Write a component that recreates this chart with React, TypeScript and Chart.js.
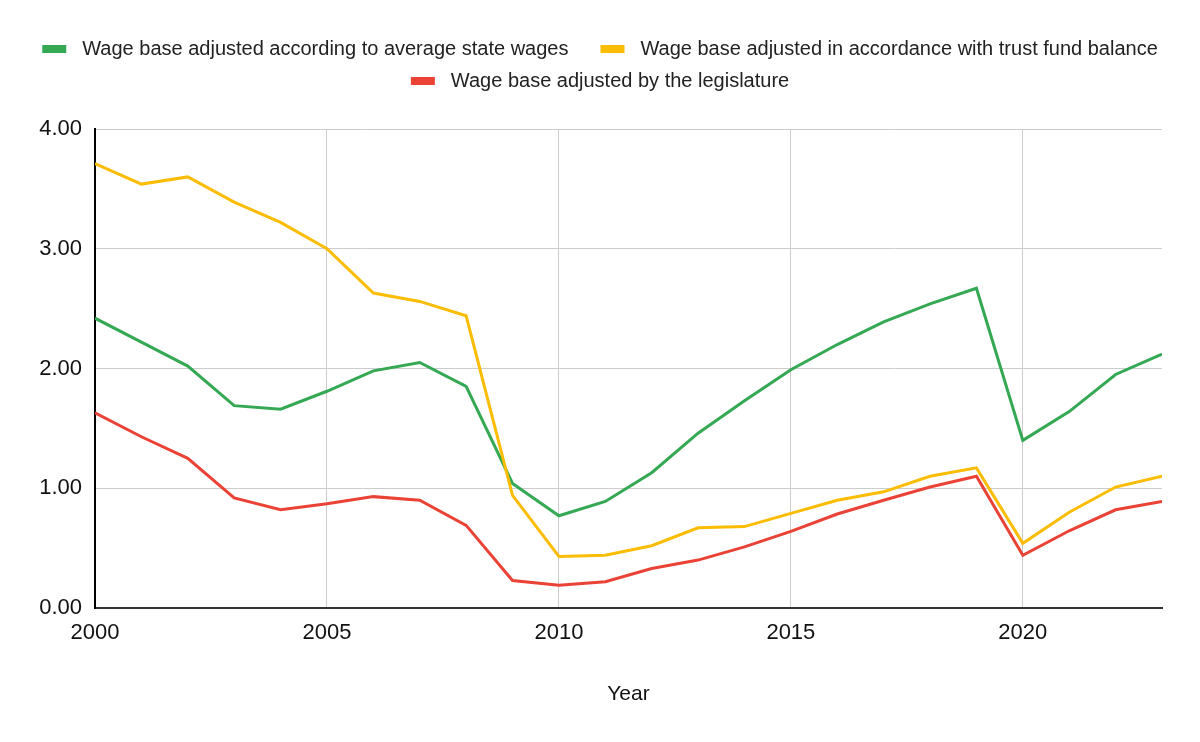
import React, { useEffect, useRef } from 'react';
import { Chart, registerables } from 'chart.js';

Chart.register(...registerables);

const years = [2000, 2001, 2002, 2003, 2004, 2005, 2006, 2007, 2008, 2009, 2010, 2011, 2012, 2013, 2014, 2015, 2016, 2017, 2018, 2019, 2020, 2021, 2022, 2023];

const seriesLabels = [
  'Wage base adjusted according to average state wages',
  'Wage base adjusted in accordance with trust fund balance',
  'Wage base adjusted by the legislature',
];

const stateWages = [2.42, 2.22, 2.02, 1.69, 1.66, 1.81, 1.98, 2.05, 1.85, 1.04, 0.77, 0.89, 1.13, 1.46, 1.73, 1.99, 2.2, 2.39, 2.54, 2.67, 1.4, 1.64, 1.95, 2.12];
const trustFund = [3.71, 3.54, 3.6, 3.39, 3.22, 3.0, 2.63, 2.56, 2.44, 0.94, 0.43, 0.44, 0.52, 0.67, 0.68, 0.79, 0.9, 0.97, 1.1, 1.17, 0.54, 0.8, 1.01, 1.1];
const legislature = [1.63, 1.43, 1.25, 0.92, 0.82, 0.87, 0.93, 0.9, 0.69, 0.23, 0.19, 0.22, 0.33, 0.4, 0.51, 0.64, 0.785, 0.9, 1.01, 1.1, 0.44, 0.645, 0.82, 0.89];

const yTicks = [0, 1, 2, 3, 4];
const xTickStep = 5;
const xTitle = 'Year';

const COLORS = ['#34a853', '#fbbc04', '#ea4335'];
const FONT = '"Liberation Sans", Arial, Helvetica, sans-serif';

function makeSwatch(color: string) {
  const c = document.createElement('canvas');
  c.width = 50;
  c.height = 8;
  const g = c.getContext('2d')!;
  g.fillStyle = color;
  g.fillRect(20, 0, 24, 8);
  return c;
}

const legendSpacer = {
  id: 'legendSpacer',
  afterInit(chart: any) {
    const legend = chart.legend;
    if (!legend) return;
    const orig = legend.fit.bind(legend);
    legend.fit = function () {
      orig();
      this.height += 28;
    };
  },
};

export default function App() {
  const ref = useRef<HTMLCanvasElement>(null);

  useEffect(() => {
    document.body.style.margin = '0';
    const series = [stateWages, trustFund, legislature];
    const orders = [3, 2, 1];
    const chart = new Chart(ref.current!, {
      type: 'line',
      data: {
        labels: years,
        datasets: series.map((d, i) => ({
          label: seriesLabels[i],
          data: d,
          borderColor: COLORS[i],
          backgroundColor: COLORS[i],
          borderWidth: 3,
          pointRadius: 0,
          pointHoverRadius: 0,
          pointStyle: makeSwatch(COLORS[i]) as any,
          tension: 0,
          order: orders[i],
        })),
      },
      options: {
        animation: false,
        responsive: false,
        devicePixelRatio: 1,
        layout: { padding: { top: 27, left: 0, right: 20, bottom: 0 } },
        plugins: {
          legend: {
            position: 'top',
            labels: {
              usePointStyle: true,
              pointStyleWidth: 50,
              boxHeight: 8,
              padding: 12,
              color: '#222',
              font: { family: FONT, size: 20 },
              sort: (a: any, b: any) => a.datasetIndex - b.datasetIndex,
            },
          },
          tooltip: { enabled: false },
        },
        scales: {
          x: {
            type: 'linear',
            min: years[0],
            max: years[years.length - 1],
            afterBuildTicks: (s: any) => {
              s.ticks = s.ticks.filter((t: any) => t.value % xTickStep === 0);
            },
            afterFit: (s: any) => {
              s.height = 134;
              s.paddingRight = 38;
            },
            ticks: {
              stepSize: xTickStep,
              padding: 12,
              color: '#111',
              font: { family: FONT, size: 22 },
              maxRotation: 0,
              autoSkip: false,
              callback: (v: any) => String(v),
            },
            grid: { color: '#cccccc', lineWidth: 1, drawTicks: false },
            border: { color: '#333333', width: 2 },
            title: {
              display: true,
              text: xTitle,
              color: '#111',
              font: { family: FONT, size: 21 },
              padding: { top: 0, bottom: 35 },
            },
          },
          y: {
            min: yTicks[0],
            max: yTicks[yTicks.length - 1],
            afterFit: (s: any) => {
              s.width = 95;
            },
            afterBuildTicks: (s: any) => {
              s.ticks = yTicks.map((v) => ({ value: v }));
            },
            ticks: {
              stepSize: 1,
              padding: 13,
              color: '#111',
              font: { family: FONT, size: 22 },
              callback: (v: any) => Number(v).toFixed(2),
            },
            grid: { color: '#cccccc', lineWidth: 1, drawTicks: false },
            border: { color: '#000000', width: 2 },
          },
        },
      },
      plugins: [legendSpacer],
    });
    return () => chart.destroy();
  }, []);

  return (
    <div style={{ width: 1200, height: 742 }}>
      <canvas ref={ref} width={1200} height={742} style={{ display: 'block' }} />
    </div>
  );
}
